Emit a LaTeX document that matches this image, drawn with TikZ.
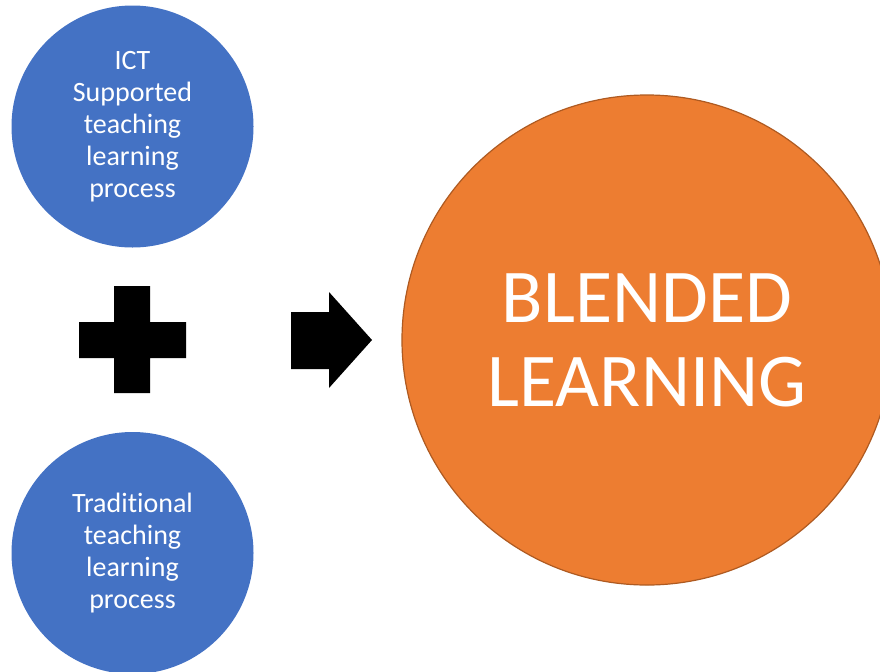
\documentclass[tikz,border=0pt]{standalone}
\usepackage{fontspec}
\setmainfont[Ligatures=NoCommon]{Carlito}
\usetikzlibrary{positioning}
\definecolor{blueball}{HTML}{4472C4}
\definecolor{orangeball}{HTML}{ED7D31}
\definecolor{orangeedge}{HTML}{AE5A21}

\begin{document}
\begin{tikzpicture}[x=0.75pt,y=-0.75pt]
    \tikzstyle{ball}=[shape=circle,fill=blueball,text=white,align=center,inner sep=0pt,minimum size=181.5pt,font=\fontsize{21}{24}\selectfont]
    \tikzstyle{bigball}=[shape=circle,fill=orangeball,draw=orangeedge,line width=0.9pt,text=white,align=center,inner sep=0pt,minimum size=367.5pt,font=\fontsize{57}{63}\selectfont]

    \useasboundingbox (0,0) rectangle (880,671);

    \node[ball] (ict) at (132.5,126.5) {ICT\\Supported\\teaching\\learning\\process};
    \node[ball] (trad) at (132.5,553) {Traditional\\teaching\\learning\\process};
    \node[bigball] (blend) at (647,340) {BLENDED\\LEARNING};

    % plus sign between the two blue circles
    \fill (114,286) -- (150,286) -- (150,322) -- (186,322) -- (186,358) -- (150,358)
      -- (150,393) -- (114,393) -- (114,358) -- (79,358) -- (79,322) -- (114,322) -- cycle;

    % block arrow towards the result
    \fill (291,312) -- (329,312) -- (329,292) -- (372,340) -- (329,388) -- (329,369)
      -- (291,369) -- cycle;

\end{tikzpicture}
\end{document}
